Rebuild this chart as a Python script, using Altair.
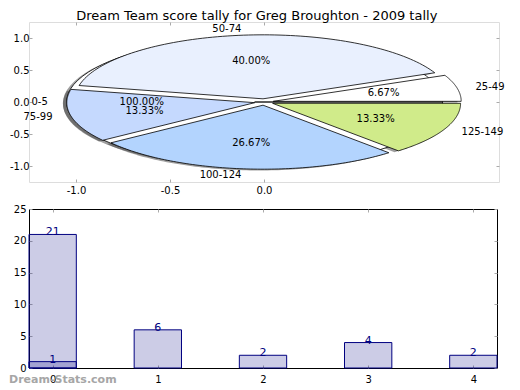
import altair as alt
import pandas as pd

# ---------------- data ----------------
title_text = "Dream Team score tally for Greg Broughton - 2009 tally"

pie_labels = ["0-5", "25-49", "50-74", "75-99", "100-124", "125-149"]
pie_pct = [100.00, 6.67, 40.00, 13.33, 26.67, 13.33]
pie_colors = ["#ffffff", "#ffffff", "#e9f0fe", "#c5d9fe", "#b3d4fe", "#d0eb8a"]
pie_x_ticks = [-1.0, -0.5, 0.0]
pie_y_ticks = [-1.0, -0.5, 0.0, 0.5, 1.0]

bar_extra_x = [0]
bar_extra_vals = [21]
bar_x = [0, 1, 2, 3, 4]
bar_vals = [1, 6, 2, 4, 2]
bar_x_ticks = [0, 1, 2, 3, 4]
bar_y_ticks = [0, 5, 10, 15, 20, 25]
watermark = "Dream-Stats.com"

# ---------------- styling constants ----------------
FONT = "DejaVu Sans"
EXPLODE = 0.05
N = 90
PW, PH = 470, 160
BW, BH = 468, 159
NAVY = "#000080"
TICK_COLOR = "#aaaaaa"
SIGNED = "(datum.value < 0 ? '-' : '') + format(abs(datum.value), '.1f')"


def label_axis(values, orient, expr=None, pad=2):
    kw = dict(values=values, orient=orient, ticks=False, domain=False, grid=False,
              labelPadding=pad, title=None, labelFontSize=10, labelColor="black",
              labelFont=FONT)
    if expr:
        kw["labelExpr"] = expr
    return alt.Axis(**kw)


def tick_axis(values, orient, offset):
    return alt.Axis(values=values, orient=orient, offset=offset, labels=False,
                    domain=False, grid=False, ticks=True, tickSize=3,
                    tickColor=TICK_COLOR, tickWidth=1, title=None)


# ---------------- pie ----------------
pie_df = pd.DataFrame({"idx": list(range(len(pie_labels))), "label": pie_labels,
                       "pct": pie_pct, "color": pie_colors})

pxs = alt.Scale(domain=[-1.25, 1.25], nice=False, zero=False)
pys = alt.Scale(domain=[-1.25, 1.25], nice=False, zero=False)


def pie_base():
    return (alt.Chart(pie_df)
            .transform_window(cum="sum(pct)", sort=[alt.SortField("idx")], frame=[None, 0])
            .transform_calculate(a0="(datum.cum - datum.pct) * PI / 50",
                                 a1="datum.cum * PI / 50")
            .transform_calculate(mid="(datum.a0 + datum.a1) / 2")
            .transform_calculate(ex=f"{EXPLODE} * cos(datum.mid)",
                                 ey=f"{EXPLODE} * sin(datum.mid)"))


def wedges(flt, ox, oy):
    return (pie_base()
            .transform_filter(flt)
            .transform_calculate(k=f"sequence(-1, {N + 1})")
            .transform_flatten(["k"])
            .transform_calculate(
                px=f"datum.ex + {ox} + (datum.k < 0 ? 0 : cos(datum.a0 + (datum.a1 - datum.a0) * datum.k / {N}))",
                py=f"datum.ey + {oy} + (datum.k < 0 ? 0 : sin(datum.a0 + (datum.a1 - datum.a0) * datum.k / {N}))"))


shadow = wedges("datum.idx >= 0", -0.02, -0.02).mark_line(
    interpolate="linear-closed", fill="#404040", fillOpacity=0.5, strokeWidth=0
).encode(
    x=alt.X("px:Q", scale=pxs, axis=label_axis(pie_x_ticks, "bottom", SIGNED, 3)),
    y=alt.Y("py:Q", scale=pys, axis=label_axis(pie_y_ticks, "left", SIGNED, 0)),
    order="k:Q", detail="label:N",
)

base_wedge = wedges("datum.idx == 0", 0, 0).mark_line(
    interpolate="linear-closed", stroke="black", strokeWidth=0.8
).encode(
    x=alt.X("px:Q", scale=pxs, axis=tick_axis(pie_x_ticks, "top", -PH)),
    y=alt.Y("py:Q", scale=pys, axis=tick_axis(pie_y_ticks, "right", -PW)),
    order="k:Q", detail="label:N",
    fill=alt.Fill("color:N", scale=None),
)

slices = wedges("datum.idx > 0", 0, 0).mark_line(
    interpolate="linear-closed", stroke="black", strokeWidth=0.8
).encode(
    x=alt.X("px:Q", scale=pxs, axis=tick_axis(pie_x_ticks, "bottom", -PH)),
    y=alt.Y("py:Q", scale=pys, axis=tick_axis(pie_y_ticks, "left", -PW)),
    order="k:Q", detail="label:N",
    fill=alt.Fill("color:N", scale=None),
)

lab = pie_base().transform_calculate(
    lx="datum.ex + 1.1 * cos(datum.mid)", ly="datum.ey + 1.1 * sin(datum.mid)",
    tx="datum.ex + 0.6 * cos(datum.mid)", ty="datum.ey + 0.6 * sin(datum.mid)",
    pl="format(datum.pct, '.2f') + '%'")

lab_right = lab.transform_filter("datum.lx > 0").mark_text(
    align="left", baseline="middle", fontSize=10, font=FONT, color="black"
).encode(x=alt.X("lx:Q", scale=pxs, axis=None), y=alt.Y("ly:Q", scale=pys, axis=None),
         text="label:N")
lab_left = lab.transform_filter("datum.lx <= 0").mark_text(
    align="right", baseline="middle", fontSize=10, font=FONT, color="black"
).encode(x=alt.X("lx:Q", scale=pxs, axis=None), y=alt.Y("ly:Q", scale=pys, axis=None),
         text="label:N")
pct_text = lab.mark_text(
    align="center", baseline="middle", fontSize=10, font=FONT, color="black"
).encode(x=alt.X("tx:Q", scale=pxs, axis=None), y=alt.Y("ty:Q", scale=pys, axis=None),
         text="pl:N")

pie = alt.layer(shadow, base_wedge, slices, lab_right, lab_left, pct_text).resolve_axis(
    x="independent", y="independent").properties(width=PW, height=PH)

# ---------------- bars ----------------
extra_df = pd.DataFrame({"x": bar_extra_x, "v": bar_extra_vals})
main_df = pd.DataFrame({"x": bar_x, "v": bar_vals})
all_df = pd.concat([extra_df, main_df], ignore_index=True)
wm_df = pd.DataFrame({"t": [watermark]})

bxs = alt.Scale(domain=[-0.225, 4.225], nice=False, zero=False)
bys = alt.Scale(domain=[0, 25], nice=False)


def bar_layer(df, xaxis, yaxis):
    return alt.Chart(df).transform_calculate(
        x0="datum.x - 0.225", x1="datum.x + 0.225"
    ).mark_rect(fill=NAVY, fillOpacity=0.2, stroke=NAVY, strokeWidth=1).encode(
        x=alt.X("x0:Q", scale=bxs, axis=xaxis), x2="x1:Q",
        y=alt.Y("v:Q", scale=bys, axis=yaxis), y2=alt.datum(0),
    )


bars_extra = bar_layer(extra_df, label_axis(bar_x_ticks, "bottom", None, 6),
                       label_axis(bar_y_ticks, "left", None, 3))
bars_main = bar_layer(main_df, tick_axis(bar_x_ticks, "top", -BH),
                      tick_axis(bar_y_ticks, "right", -BW))
bar_text = alt.Chart(all_df).mark_text(
    color=NAVY, fontSize=11, font=FONT, baseline="alphabetic", dy=1
).encode(
    x=alt.X("x:Q", scale=bxs, axis=tick_axis(bar_x_ticks, "bottom", -BH)),
    y=alt.Y("v:Q", scale=bys, axis=tick_axis(bar_y_ticks, "left", -BW)),
    text="v:Q",
)
wm = alt.Chart(wm_df).mark_text(
    align="left", baseline="middle", fontSize=11, fontWeight="bold", font=FONT,
    color="#a6a6a6"
).encode(x=alt.value(-20), y=alt.value(BH + 12), text="t:N")

bar = alt.layer(bars_extra, bars_main, bar_text, wm).resolve_axis(
    x="independent", y="independent"
).properties(width=BW, height=BH, view=alt.ViewBackground(stroke="black", strokeWidth=1))

chart = alt.vconcat(pie, bar, spacing=7).properties(
    title=alt.TitleParams(title_text, fontSize=13, font=FONT, fontWeight="normal",
                          anchor="middle", offset=-2, color="black"),
    padding={"left": 0, "top": 2, "right": 0, "bottom": 0},
).configure_view(stroke=None).configure(font=FONT)

chart.save("out.html", embed_options={"renderer": "svg", "actions": False})
